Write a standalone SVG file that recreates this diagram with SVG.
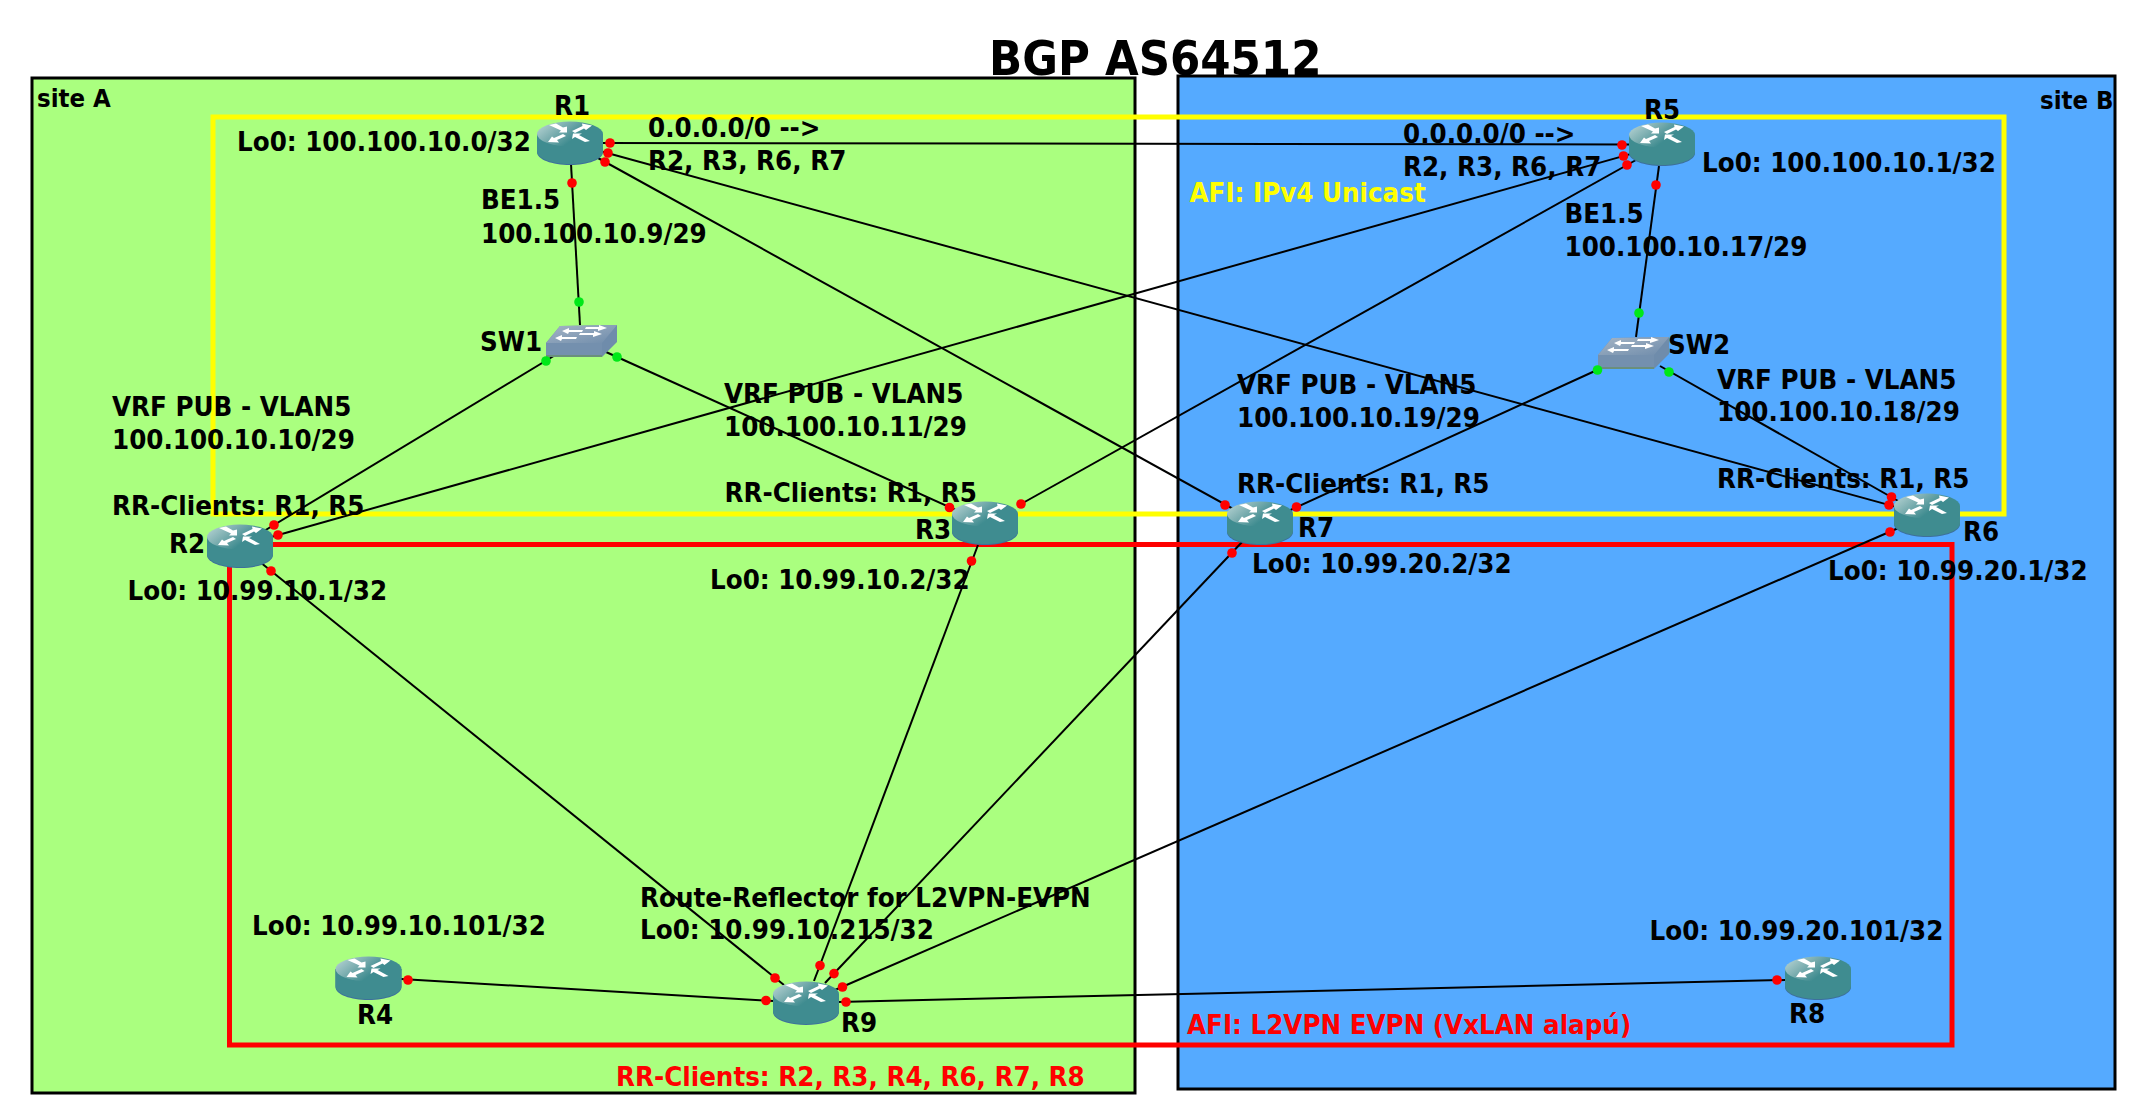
<svg xmlns="http://www.w3.org/2000/svg" width="2150" height="1114" viewBox="0 0 2150 1114">
<style>
text{font-family:"DejaVu Sans Condensed","DejaVu Sans","Liberation Sans",sans-serif;font-weight:700;font-size:27.400px;fill:#000}
.big{font-size:48.400px}
.s{font-size:25.500px}
.y{fill:#ffff00}
.r{fill:#ff0000}
.site{stroke:#000;stroke-width:3}
.box{fill:none;stroke-width:5;stroke-linejoin:miter}
#links line{stroke:#000;stroke-width:2}
.rd{fill:#ff0000}
.gd{fill:#00e818}
</style>
<defs>
<linearGradient id="top" x1="0" y1="0" x2="1" y2="0.5">
<stop offset="0" stop-color="#c0d9d9"/><stop offset="0.38" stop-color="#7fb0b2"/><stop offset="0.72" stop-color="#3f8c90"/>
</linearGradient>
<linearGradient id="swtop" x1="0" y1="0" x2="1" y2="1">
<stop offset="0" stop-color="#a5b5c6"/><stop offset="1" stop-color="#6f8cab"/>
</linearGradient>
<g id="rt">
<path d="M-33,-9V9C-33,16.500 -18,22 0,22S33,16.500 33,9V-9Z" fill="#3d6f9c"/>
<path d="M-33,-9V8C-33,15.500 -18,21 0,21S33,15.500 33,8V-9Z" fill="#3f8c90"/>
<ellipse cx="0" cy="-9" rx="33" ry="12.500" fill="url(#top)"/>
<g fill="#fff">
<polygon points="-21,-18 -14,-19.500 -7,-15.500 -3,-16.500 -3,-10.500 -11,-10.500 -9,-12.500"/>
<polygon points="22,-17.500 12,-19.500 12.500,-17 2,-12 5,-10 14,-14.500 16,-13"/>
<polygon points="-22,-1 -11,-0.500 -13,-3 -4,-7 -7,-9 -16,-5 -18,-6.500"/>
<polygon points="20,-2 9,-8 12,-9.500 3,-9.500 2,-4 5,-6 15,-1"/>
</g>
</g>
<g id="sw">
<polygon points="-36,2 -22,-15 35,-16 35,1 20,16 -36,16" fill="#6f8cab"/>
<polygon points="-36,2 -22,-15 35,-16 20,2" fill="url(#swtop)"/>
<polygon points="-36,2 20,2 20,14 -36,14" fill="#7490ae"/>
<polygon points="-36,14 20,14 20,16 -36,16" fill="#6a8f7c"/>
<g fill="#fff">
<polygon points="-20,-10 -13,-13 -13,-11 1,-11 0,-9 -13,-9 -14,-7"/>
<polygon points="25,-13 17,-16 17,-14 4,-14 3,-12 16,-12 16,-10"/>
<polygon points="-27,-3 -20,-6 -20,-4 -5,-4 -6,-2 -20,-2 -21,0"/>
<polygon points="20,-7 12,-10 12,-8 -2,-8 -3,-6 11,-6 11,-4"/>
</g>
</g>
</defs>
<text class="big" x="989" y="75">BGP AS64512</text>
<g id="siteA"><rect class="site" x="32" y="78" width="1103" height="1015" fill="#aaff7f"/><text class="s" x="37" y="107">site A</text></g>
<g id="siteB"><rect class="site" x="1178" y="76" width="937" height="1013" fill="#55aaff"/><text class="s" x="2040" y="109">site B</text></g>
<g id="afi-ipv4"><rect class="box" stroke="#ffff00" x="213" y="117" width="1791" height="397"/><text class="y" x="1189.500" y="202">AFI: IPv4 Unicast</text></g>
<g id="afi-evpn"><rect class="box" stroke="#ff0000" x="229.500" y="544.500" width="1722.500" height="500.500"/><text class="r" x="1187" y="1034">AFI: L2VPN EVPN (VxLAN alapú)</text><text class="r" x="616" y="1086">RR-Clients: R2, R3, R4, R6, R7, R8</text></g>
<g id="links">
<line x1="603" y1="143" x2="1629" y2="144.500"/>
<line x1="600" y1="151" x2="1895" y2="506.600"/>
<line x1="598" y1="158" x2="1235" y2="510"/>
<line x1="1632" y1="153.600" x2="272" y2="536.700"/>
<line x1="1636" y1="160" x2="1021" y2="504"/>
<line x1="571" y1="164" x2="580" y2="325"/>
<line x1="557" y1="354" x2="264" y2="531"/>
<line x1="606" y1="352" x2="958" y2="511"/>
<line x1="1659" y1="166" x2="1636" y2="337"/>
<line x1="1608" y1="365" x2="1286" y2="512"/>
<line x1="1660" y1="366" x2="1900" y2="502"/>
<line x1="260" y1="562" x2="784" y2="985"/>
<line x1="978" y1="545" x2="814" y2="981"/>
<line x1="1243" y1="541" x2="825" y2="983"/>
<line x1="1903" y1="526" x2="835" y2="990"/>
<line x1="401" y1="979" x2="773" y2="1001"/>
<line x1="838" y1="1002" x2="1785" y2="980"/>
</g>
<g id="R1"><use href="#rt" x="570" y="143"/><text x="554" y="115">R1</text><text x="237" y="151">Lo0: 100.100.10.0/32</text><text x="648" y="137">0.0.0.0/0 --&gt;</text><text x="648" y="170">R2, R3, R6, R7</text><text x="481" y="209">BE1.5</text><text x="481" y="243">100.100.10.9/29</text></g>
<g id="R5"><use href="#rt" x="1662" y="144"/><text x="1644" y="119">R5</text><text x="1403" y="143">0.0.0.0/0 --&gt;</text><text x="1403" y="176">R2, R3, R6, R7</text><text x="1702" y="172">Lo0: 100.100.10.1/32</text><text x="1564.500" y="223">BE1.5</text><text x="1564.500" y="256">100.100.10.17/29</text></g>
<g id="SW1"><use href="#sw" x="582" y="341"/><text x="480" y="351">SW1</text></g>
<g id="SW2"><use href="#sw" x="1634" y="353"/><text x="1668" y="354">SW2</text></g>
<g id="R2"><use href="#rt" x="240" y="546"/><text x="169" y="553">R2</text><text x="112" y="416">VRF PUB - VLAN5</text><text x="112" y="449">100.100.10.10/29</text><text x="112" y="515">RR-Clients: R1, R5</text><text x="127.500" y="600">Lo0: 10.99.10.1/32</text></g>
<g id="R3"><use href="#rt" x="985" y="523"/><text x="915" y="539">R3</text><text x="724" y="403">VRF PUB - VLAN5</text><text x="724" y="436">100.100.10.11/29</text><text x="724.500" y="502">RR-Clients: R1, R5</text><text x="710" y="589">Lo0: 10.99.10.2/32</text></g>
<g id="R7"><use href="#rt" x="1260" y="523"/><text x="1298" y="537">R7</text><text x="1237" y="393.500">VRF PUB - VLAN5</text><text x="1237" y="427">100.100.10.19/29</text><text x="1237" y="493">RR-Clients: R1, R5</text><text x="1252" y="572.500">Lo0: 10.99.20.2/32</text></g>
<g id="R6"><use href="#rt" x="1927" y="515"/><text x="1963" y="541">R6</text><text x="1717" y="388.500">VRF PUB - VLAN5</text><text x="1717" y="421">100.100.10.18/29</text><text x="1717" y="487.500">RR-Clients: R1, R5</text><text x="1828" y="580">Lo0: 10.99.20.1/32</text></g>
<g id="R4"><use href="#rt" x="368.500" y="978"/><text x="357" y="1024">R4</text><text x="252" y="935">Lo0: 10.99.10.101/32</text></g>
<g id="R9"><use href="#rt" x="806" y="1003"/><text x="841" y="1032">R9</text><text x="640" y="906.500">Route-Reflector for L2VPN-EVPN</text><text x="640" y="939">Lo0: 10.99.10.215/32</text></g>
<g id="R8"><use href="#rt" x="1818" y="978"/><text x="1789" y="1022.500">R8</text><text x="1649.500" y="940">Lo0: 10.99.20.101/32</text></g>
<g id="ports">
<g class="rd">
<circle cx="610" cy="143" r="4.800"/><circle cx="608" cy="153" r="4.800"/><circle cx="605" cy="162" r="4.800"/><circle cx="572" cy="183" r="4.800"/>
<circle cx="274" cy="525" r="4.800"/><circle cx="278" cy="535" r="4.800"/><circle cx="271" cy="571" r="4.800"/>
<circle cx="949.500" cy="507.500" r="4.800"/><circle cx="1021" cy="504" r="4.800"/><circle cx="971.500" cy="561" r="4.800"/>
<circle cx="1622" cy="145" r="4.800"/><circle cx="1623.500" cy="156" r="4.800"/><circle cx="1627" cy="165" r="4.800"/><circle cx="1656" cy="185" r="4.800"/>
<circle cx="1225" cy="505" r="4.800"/><circle cx="1296.500" cy="507" r="4.800"/><circle cx="1232" cy="553" r="4.800"/>
<circle cx="1891.500" cy="497" r="4.800"/><circle cx="1889" cy="505" r="4.800"/><circle cx="1890" cy="532" r="4.800"/>
<circle cx="408" cy="980" r="4.800"/>
<circle cx="775" cy="978" r="4.800"/><circle cx="820" cy="965.500" r="4.800"/><circle cx="834" cy="973.600" r="4.800"/><circle cx="842.500" cy="987" r="4.800"/><circle cx="766" cy="1000.500" r="4.800"/><circle cx="846" cy="1002" r="4.800"/>
<circle cx="1777" cy="980" r="4.800"/>
</g>
<g class="gd">
<circle cx="579" cy="302" r="4.800"/><circle cx="546" cy="361" r="4.800"/><circle cx="617" cy="357" r="4.800"/>
<circle cx="1639" cy="313" r="4.800"/><circle cx="1597.500" cy="370" r="4.800"/><circle cx="1669" cy="372" r="4.800"/>
</g>
</g>
</svg>
